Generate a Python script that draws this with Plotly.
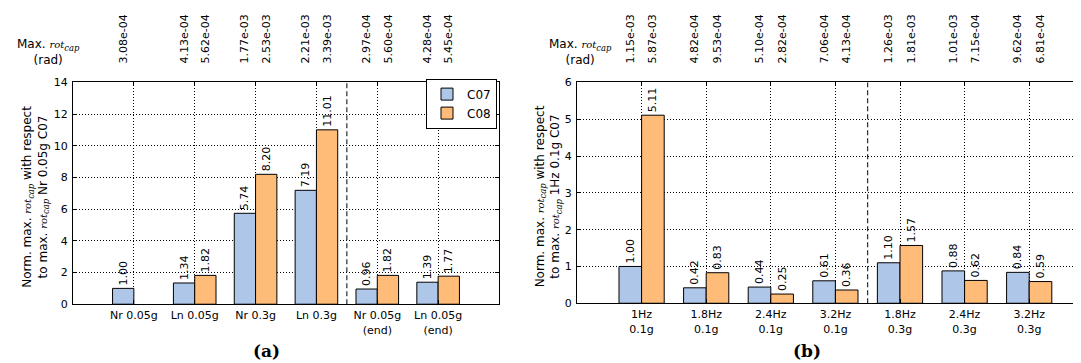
import plotly.graph_objects as go

# ---------------- data ----------------
cats_a = ["Nr 0.05g", "Ln 0.05g", "Nr 0.3g", "Ln 0.3g", "Nr 0.05g<br>(end)", "Ln 0.05g<br>(end)"]
norm_a_c07 = [1.00, 1.34, 5.74, 7.19, 0.96, 1.39]
norm_a_c08 = [None, 1.82, 8.20, 11.01, 1.82, 1.77]
rot_a_c07 = [3.08e-04, 4.13e-04, 1.77e-03, 2.21e-03, 2.97e-04, 4.28e-04]
rot_a_c08 = [None, 5.62e-04, 2.53e-03, 3.39e-03, 5.60e-04, 5.45e-04]

cats_b = ["1Hz<br>0.1g", "1.8Hz<br>0.1g", "2.4Hz<br>0.1g", "3.2Hz<br>0.1g",
          "1.8Hz<br>0.3g", "2.4Hz<br>0.3g", "3.2Hz<br>0.3g"]
norm_b_c07 = [1.00, 0.42, 0.44, 0.61, 1.10, 0.88, 0.84]
norm_b_c08 = [5.11, 0.83, 0.25, 0.36, 1.57, 0.62, 0.59]
rot_b_c07 = [1.15e-03, 4.82e-04, 5.10e-04, 7.06e-04, 1.26e-03, 1.01e-03, 9.62e-04]
rot_b_c08 = [5.87e-03, 9.53e-04, 2.82e-04, 4.13e-04, 1.81e-03, 7.15e-04, 6.81e-04]

series_names = ["C07", "C08"]
ytick_a = [0, 2, 4, 6, 8, 10, 12, 14]
ytick_b = [0, 1, 2, 3, 4, 5, 6]
split_a = 3.5
split_b = 3.5

# ---------------- style ----------------
W, H = 1081, 363
BLUE = "#aec7e8"
ORANGE = "#ffbb78"
BW = 0.35
FONT = "DejaVu Sans"
SERIF = "DejaVu Serif"
FS = 11

def px(x):
    return x / W

def py(y):
    return 1 - y / H

fig = go.Figure()

def add_panel(cats, v07, v08, xa, ya, legend):
    xs = list(range(len(cats)))
    for vals, name, color, off in [(v07, series_names[0], BLUE, -BW), (v08, series_names[1], ORANGE, 0.0)]:
        keep = [i for i, v in enumerate(vals) if v is not None]
        fig.add_trace(go.Bar(
            x=[xs[i] for i in keep], y=[vals[i] for i in keep], name=name, width=BW, offset=off,
            marker=dict(color=color, line=dict(color="black", width=1)),
            text=[f"{vals[i]:.2f}" for i in keep],
            textposition="outside", textangle=-90, constraintext="none",
            cliponaxis=False,
            textfont=dict(family=FONT, size=FS, color="black"),
            xaxis=xa, yaxis=ya, showlegend=legend, legendgroup=name,
            hoverinfo="skip",
        ))

add_panel(cats_a, norm_a_c07, norm_a_c08, "x", "y", True)
add_panel(cats_b, norm_b_c07, norm_b_c08, "x2", "y2", False)

def top_ticks(r07, r08):
    vals, txt = [], []
    for i, (a, b) in enumerate(zip(r07, r08)):
        if a is not None:
            vals.append(i - BW / 2); txt.append(f"{a:.2e}")
        if b is not None:
            vals.append(i + BW / 2); txt.append(f"{b:.2e}")
    return vals, txt

tva, tta = top_ticks(rot_a_c07, rot_a_c08)
tvb, ttb = top_ticks(rot_b_c07, rot_b_c08)

# invisible traces to activate the top axes
fig.add_trace(go.Scatter(x=[0], y=[0], xaxis="x3", yaxis="y", showlegend=False,
                         mode="markers", marker=dict(opacity=0), hoverinfo="skip"))
fig.add_trace(go.Scatter(x=[0], y=[0], xaxis="x4", yaxis="y2", showlegend=False,
                         mode="markers", marker=dict(opacity=0), hoverinfo="skip"))

grid = dict(showgrid=True, gridcolor="black", gridwidth=1, griddash="1px,2px")
tickfont = dict(family=FONT, size=FS, color="black")

ra = [-1, len(cats_a)]
rb_units = (W - 569) / 64.6
rb = [-1, -1 + rb_units]

fig.update_layout(
    width=W, height=H,
    margin=dict(l=0, r=0, t=0, b=0),
    paper_bgcolor="white", plot_bgcolor="white",
    barmode="overlay",
    font=dict(family=FONT, size=FS, color="black"),
    xaxis=dict(domain=[px(65), px(491)], range=ra, tickvals=list(range(len(cats_a))),
               ticktext=cats_a, tickfont=tickfont, showline=True, linecolor="black",
               linewidth=1, mirror="ticks", ticks="inside", ticklen=4, tickcolor="black",
               zeroline=False, anchor="y", ticklabelstandoff=1, **grid),
    yaxis=dict(domain=[py(301), py(71)], range=[0, 14], tickvals=ytick_a, tickfont=tickfont,
               showline=True, linecolor="black", linewidth=1, mirror="ticks",
               ticks="inside", ticklen=4, tickcolor="black", zeroline=False,
               anchor="x", ticklabelstandoff=2, **grid),
    xaxis2=dict(domain=[px(569), 1.0], range=rb, tickvals=list(range(len(cats_b))),
                ticktext=cats_b, tickfont=tickfont, showline=True, linecolor="black",
                linewidth=1, mirror="ticks", ticks="inside", ticklen=4, tickcolor="black",
                zeroline=False, anchor="y2", ticklabelstandoff=1, **grid),
    yaxis2=dict(domain=[py(300), py(71)], range=[0, 6], tickvals=ytick_b, tickfont=tickfont,
                showline=True, linecolor="black", linewidth=1, mirror=False,
                ticks="inside", ticklen=4, tickcolor="black", zeroline=False,
                anchor="x2", ticklabelstandoff=2, **grid),
    xaxis3=dict(overlaying="x", side="top", anchor="y", range=ra, tickvals=tva, ticktext=tta,
                tickangle=-90, tickfont=tickfont, showgrid=False, showline=False,
                zeroline=False, ticks="", ticklabelstandoff=18),
    xaxis4=dict(overlaying="x2", side="top", anchor="y2", range=rb, tickvals=tvb, ticktext=ttb,
                tickangle=-90, tickfont=tickfont, showgrid=False, showline=False,
                zeroline=False, ticks="", ticklabelstandoff=18),
    legend=dict(x=px(489), y=py(67), xanchor="right", yanchor="top",
                bgcolor="white", bordercolor="black", borderwidth=1,
                font=dict(family=FONT, size=12, color="black"), itemwidth=30,
                tracegroupgap=0),
)

# split lines
fig.add_shape(type="line", xref="x", yref="y domain", x0=split_a, x1=split_a, y0=0, y1=1,
              line=dict(color="black", width=1, dash="5px,3px"))
fig.add_shape(type="line", xref="x2", yref="y2 domain", x0=split_b, x1=split_b, y0=0, y1=1,
              line=dict(color="black", width=1, dash="5px,3px"))

ROT = (f"<span style='font-family:{SERIF};font-style:italic;font-size:10px'>rot</span>"
       f"<sub><span style='font-family:{SERIF};font-style:italic'>cap</span></sub>")

ann = []
ann.append(dict(text=f"Norm. max. {ROT} with respect<br>to max. {ROT} Nr 0.05g C07",
                x=px(28), y=(py(301) + py(71)) / 2 - 0.01, xref="paper", yref="paper",
                textangle=-90, showarrow=False, xanchor="center", yanchor="middle",
                font=dict(family=FONT, size=12, color="black")))
ann.append(dict(text=f"Norm. max. {ROT} with respect<br>to max. {ROT} 1Hz 0.1g C07",
                x=px(540), y=(py(300) + py(71)) / 2 - 0.01, xref="paper", yref="paper",
                textangle=-90, showarrow=False, xanchor="center", yanchor="middle",
                font=dict(family=FONT, size=12, color="black")))
for cx in (40, 572):
    ann.append(dict(text=f"Max. {ROT}<br>(rad)", x=px(cx), y=py(39), xref="paper", yref="paper",
                    showarrow=False, xanchor="center", yanchor="middle",
                    font=dict(family=FONT, size=12, color="black")))
for lab, cx in (("(a)", 258), ("(b)", 799)):
    ann.append(dict(text=f"<b>{lab}</b>", x=px(cx), y=py(349), xref="paper", yref="paper",
                    showarrow=False, xanchor="center", yanchor="middle",
                    font=dict(family=SERIF, size=17, color="black")))
fig.update_layout(annotations=ann)

fig.write_html("out.html")
